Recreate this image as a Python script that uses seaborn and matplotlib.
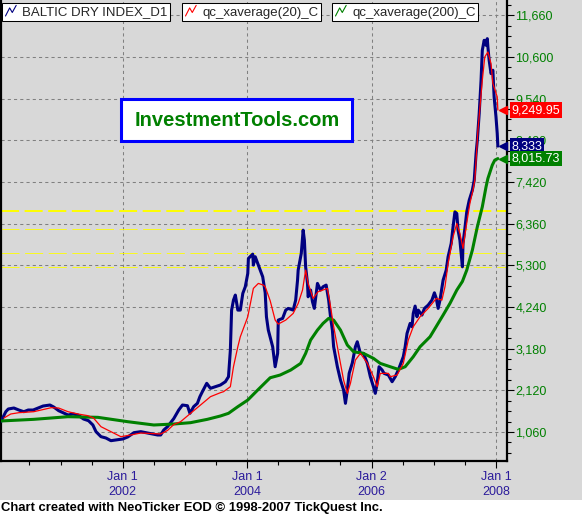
import numpy as np
import matplotlib
matplotlib.use("Agg")
import matplotlib.pyplot as plt
import matplotlib.transforms as mtrans
import seaborn as sns
from matplotlib.legend_handler import HandlerBase
from matplotlib.lines import Line2D
from matplotlib.patches import Rectangle
from matplotlib.ticker import MultipleLocator

# Baltic Dry Index (decimal year, index value)
bdi_t = [2000.04, 2000.12, 2000.16, 2000.25, 2000.33, 2000.41, 2000.48, 2000.56, 2000.64, 2000.72,
         2000.83, 2000.89, 2000.97, 2001.05, 2001.12, 2001.20, 2001.28, 2001.37, 2001.45, 2001.52,
         2001.57, 2001.65, 2001.73, 2001.81, 2001.89, 2002.00, 2002.08, 2002.18, 2002.29, 2002.40,
         2002.48, 2002.56, 2002.61, 2002.66, 2002.72, 2002.82, 2002.90, 2002.96, 2003.04, 2003.08,
         2003.14, 2003.20, 2003.24, 2003.28, 2003.35, 2003.41, 2003.49, 2003.57, 2003.65, 2003.70,
         2003.73, 2003.75, 2003.78, 2003.81, 2003.85, 2003.89, 2003.93, 2003.97, 2004.01, 2004.02,
         2004.09, 2004.10, 2004.13, 2004.18, 2004.25, 2004.29, 2004.31, 2004.34, 2004.41, 2004.45,
         2004.49, 2004.50, 2004.57, 2004.62, 2004.66, 2004.74, 2004.78, 2004.81, 2004.82, 2004.87,
         2004.90, 2004.92, 2004.94, 2004.97, 2004.98, 2005.02, 2005.05, 2005.08, 2005.13, 2005.18,
         2005.22, 2005.27, 2005.31, 2005.34, 2005.37, 2005.39, 2005.45, 2005.50, 2005.55, 2005.58,
         2005.61, 2005.64, 2005.69, 2005.74, 2005.77, 2005.82, 2005.87, 2005.93, 2005.98, 2006.03,
         2006.06, 2006.09, 2006.12, 2006.17, 2006.20, 2006.27, 2006.30, 2006.33, 2006.38, 2006.43,
         2006.48, 2006.51, 2006.54, 2006.57, 2006.62, 2006.65, 2006.67, 2006.70, 2006.73, 2006.75,
         2006.81, 2006.85, 2006.91, 2006.97, 2007.01, 2007.04, 2007.07, 2007.10, 2007.15, 2007.20,
         2007.23, 2007.28, 2007.31, 2007.34, 2007.37, 2007.39, 2007.42, 2007.46, 2007.47, 2007.50,
         2007.53, 2007.57, 2007.62, 2007.65, 2007.68, 2007.70, 2007.73, 2007.76, 2007.78, 2007.81,
         2007.84, 2007.86, 2007.87, 2007.89, 2007.92, 2007.95, 2007.97, 2008.00, 2008.02, 2008.03]
bdi_v = [1322, 1576, 1645, 1670, 1619, 1576, 1619, 1619, 1670, 1721,
         1746, 1696, 1602, 1543, 1492, 1518, 1492, 1390, 1347, 1238,
         1068, 941, 907, 839, 856, 882, 933, 1043, 1068, 1034,
         1009, 984, 984, 1111, 1195, 1400, 1619, 1746, 1729, 1535,
         1704, 1789, 1958, 2085, 2298, 2171, 2212, 2255, 2339, 2466,
         3144, 4161, 4415, 4543, 4161, 4161, 4586, 4755, 5094, 5476,
         5585, 5305, 5518, 5305, 5008, 4600, 3992, 3653, 3229, 2720,
         3060, 3907, 3950, 4161, 4204, 4161, 4415, 4924, 5178, 5603,
         6195, 5940, 5262, 4840, 4500, 4670, 4373, 4204, 4840, 4670,
         4755, 4797, 4415, 3992, 3653, 3229, 2720, 2382, 2128, 1789,
         2128, 2552, 2814, 3229, 3356, 3060, 3060, 2814, 2466, 2212,
         2043, 2297, 2720, 2636, 2552, 2509, 2424, 2339, 2466, 2636,
         2848, 2975, 3229, 3568, 3823, 3738, 4077, 4263, 3992, 4161,
         4034, 4204, 4288, 4415, 4601, 4458, 4204, 4415, 4924, 5178,
         5518, 5857, 6280, 6661, 6619, 6195, 5940, 5262, 5857, 6238,
         6661, 6958, 7212, 7466, 8144, 8483, 9161, 10008, 10771, 11025,
         10898, 11067, 10856, 10517, 10178, 10263, 9585, 9076, 8653, 8333]

# qc_xaverage(20)
ma20_t = [2000.09, 2000.20, 2000.33, 2000.57, 2000.85, 2000.97, 2001.12, 2001.28, 2001.44, 2001.53,
          2001.65, 2001.81, 2001.97, 2002.13, 2002.29, 2002.61, 2002.72, 2002.82, 2002.93, 2003.09,
          2003.25, 2003.41, 2003.57, 2003.62, 2003.73, 2003.78, 2003.85, 2003.89, 2004.01, 2004.10,
          2004.18, 2004.26, 2004.29, 2004.37, 2004.45, 2004.50, 2004.62, 2004.74, 2004.82, 2004.89,
          2004.94, 2004.98, 2005.06, 2005.14, 2005.29, 2005.34, 2005.39, 2005.47, 2005.55, 2005.61,
          2005.66, 2005.74, 2005.82, 2005.93, 2006.03, 2006.09, 2006.14, 2006.27, 2006.30, 2006.41,
          2006.51, 2006.59, 2006.67, 2006.78, 2006.91, 2007.04, 2007.13, 2007.18, 2007.23, 2007.31,
          2007.37, 2007.42, 2007.47, 2007.52, 2007.58, 2007.63, 2007.66, 2007.71, 2007.78, 2007.82,
          2007.87, 2007.92, 2007.95, 2008.02, 2008.03]
ma20_v = [1416, 1518, 1551, 1576, 1678, 1670, 1576, 1518, 1475, 1416,
          1195, 1068, 941, 984, 1034, 1009, 1100, 1250, 1322, 1535,
          1746, 1958, 2060, 2085, 2212, 2720, 3229, 3483, 3992, 4713,
          4840, 4797, 4755, 4400, 3907, 3805, 3907, 4077, 4331, 4670,
          5178, 4840, 4458, 4628, 4713, 4255, 3747, 3060, 2382, 2043,
          2297, 2890, 3060, 2814, 2466, 2212, 2550, 2552, 2466, 2509,
          2805, 3399, 3738, 3992, 4204, 4458, 4415, 4755, 5347, 6026,
          6365, 6110, 5730, 6280, 6873, 7212, 7466, 8737, 10008, 10601,
          10729, 10432, 9924, 9585, 9249.95]

# qc_xaverage(200)
ma200_t = [2000.04, 2000.57, 2001.12, 2001.60, 2002.08, 2002.50, 2002.82, 2003.09, 2003.36, 2003.57,
           2003.70, 2003.85, 2004.01, 2004.17, 2004.37, 2004.53, 2004.70, 2004.86, 2004.94, 2005.02,
           2005.13, 2005.22, 2005.31, 2005.39, 2005.50, 2005.61, 2005.71, 2005.87, 2006.03, 2006.14,
           2006.30, 2006.43, 2006.54, 2006.67, 2006.78, 2006.94, 2007.15, 2007.26, 2007.37, 2007.46,
           2007.53, 2007.62, 2007.70, 2007.78, 2007.84, 2007.87, 2007.94, 2007.98, 2008.03]
ma200_v = [1340, 1382, 1449, 1433, 1322, 1238, 1263, 1297, 1382, 1467,
           1535, 1704, 1873, 2128, 2440, 2509, 2636, 2805, 3060, 3399,
           3653, 3823, 3950, 3907, 3653, 3272, 3102, 3060, 2933, 2805,
           2720, 2653, 2720, 2975, 3229, 3483, 4034, 4331, 4670, 4890,
           5178, 5687, 6280, 6788, 7296, 7510, 7848, 7975, 8015.73]

series_names = ["BALTIC DRY INDEX_D1", "qc_xaverage(20)_C", "qc_xaverage(200)_C"]
last_labels = ["8,333", "9,249.95", "8,015.73"]
yellow_levels = [6690, 6220, 5605, 5265]
tick_years = [2002, 2004, 2006, 2008]
tick_labels = ["Jan 1\n2002", "Jan 1\n2004", "Jan 2\n2006", "Jan 1\n2008"]

NAVY, RED, GREEN = "#000080", "#ff0000", "#008000"
BG = "#d8d8d8"

sns.set_style("white")
plt.rcParams["font.family"] = ["Liberation Sans", "DejaVu Sans"]
plt.rcParams["lines.scale_dashes"] = False

W, H = 582, 516
fig = plt.figure(figsize=(W / 100, H / 100), dpi=100, facecolor=BG)
ax = fig.add_axes([1 / W, 55 / H, 506 / W, 461 / H])
ax.set_facecolor(BG)

sns.lineplot(x=bdi_t, y=bdi_v, ax=ax, color=NAVY, linewidth=2.2, zorder=3)
sns.lineplot(x=ma200_t, y=ma200_v, ax=ax, color=GREEN, linewidth=2.2, zorder=3)
sns.lineplot(x=ma20_t, y=ma20_v, ax=ax, color=RED, linewidth=0.9, zorder=4)
line_bdi, line_200, line_20 = ax.lines[0], ax.lines[1], ax.lines[2]

for i, lvl in enumerate(yellow_levels):
    ax.axhline(lvl, color="#ffff00", linewidth=1.4 if i == 0 else 0.6,
               linestyle=(0, (13, 4)), zorder=1)

ax.set_xlim(2000.043, 2008.177)
ax.set_ylim(322, 12050)
ax.set_xlabel("")
ax.set_ylabel("")

ax.set_xticks(tick_years, tick_labels)
ax.xaxis.set_minor_locator(MultipleLocator(0.5))
ax.yaxis.tick_right()
ax.yaxis.set_major_locator(MultipleLocator(1060))
ax.yaxis.set_minor_locator(MultipleLocator(265))
ax.yaxis.set_major_formatter(lambda v, p: f"{v:,.0f}")

ax.tick_params(which="major", length=5, width=0.8, color="black", direction="out")
ax.tick_params(which="minor", length=3, width=0.8, color="black", direction="out")
ax.tick_params(axis="y", which="both", right=True, left=False, labelsize=9,
               labelcolor=GREEN, pad=1)
ax.tick_params(axis="x", which="both", bottom=True, labelsize=9,
               labelcolor="#2b1b9b", pad=2)
for lab in ax.get_xticklabels():
    lab.set_linespacing(1.35)

ax.set_axisbelow(True)
ax.grid(which="major", color="#808080", linestyle=(0, (2.25, 2.25)), linewidth=0.75)
ax.spines["top"].set_visible(False)
for s in ["left", "right", "bottom"]:
    ax.spines[s].set_color("black")
    ax.spines[s].set_linewidth(1.6)

# last value markers on the right edge (they sit over the tick labels, as in the source)
trans = mtrans.blended_transform_factory(ax.transAxes, ax.transData)
for line, txt, col in [(line_20, last_labels[1], RED),
                       (line_bdi, last_labels[0], NAVY),
                       (line_200, last_labels[2], GREEN)]:
    v = line.get_ydata()[-1]
    ax.plot([0.9925], [v], marker="<", markersize=6, color=col, transform=trans,
            clip_on=False, zorder=6)
    ax.text(1.009, v, txt, transform=trans, ha="left", va="center", color="white",
            fontsize=9, zorder=7, clip_on=False,
            bbox=dict(boxstyle="square,pad=0.15", fc=col, ec="none"))


# legend boxes with small zigzag icons
class ZigzagHandler(HandlerBase):
    def create_artists(self, legend, orig_handle, xdescent, ydescent, width, height,
                       fontsize, trans):
        xs = np.array([0.05, 0.4, 0.62, 0.95]) * width - xdescent
        ys = np.array([0.0, 0.8, 0.35, 1.05]) * height - ydescent
        return [Line2D(xs, ys, color=orig_handle.get_color(), lw=0.8, transform=trans)]


for line, name, left in [(line_bdi, series_names[0], 2),
                         (line_20, series_names[1], 182),
                         (line_200, series_names[2], 332)]:
    leg = fig.legend(handles=[line], labels=[name], loc="upper left",
                     bbox_to_anchor=(left / W, 1 - 3 / H), bbox_transform=fig.transFigure,
                     frameon=True, fancybox=False, edgecolor="black", facecolor="white",
                     framealpha=1, fontsize=9.5, handlelength=0.9, handleheight=0.8,
                     handletextpad=0.4, borderpad=0.22, borderaxespad=0,
                     handler_map={Line2D: ZigzagHandler()})
    leg.get_frame().set_linewidth(0.75)

# watermark box
fig.add_artist(Rectangle((121 / W, 1 - 141 / H), 231 / W, 42 / H, transform=fig.transFigure,
                         facecolor="white", edgecolor="#0000ff", linewidth=2.2, zorder=2))
fig.text(237 / W, 1 - 120 / H, "InvestmentTools.com", ha="center", va="center",
         fontsize=14.5, fontweight="bold", color=GREEN, zorder=3)

# footer strip
fig.add_artist(Rectangle((0, 0), 1, 16 / H, transform=fig.transFigure,
                         facecolor="white", edgecolor="none", zorder=1))
fig.text(1 / W, 8 / H, "Chart created with NeoTicker EOD \u00a9 1998-2007 TickQuest Inc.",
         ha="left", va="center", fontsize=9.4, fontweight="bold", color="black", zorder=3)

fig.savefig("out.png", dpi=100, facecolor=BG)
